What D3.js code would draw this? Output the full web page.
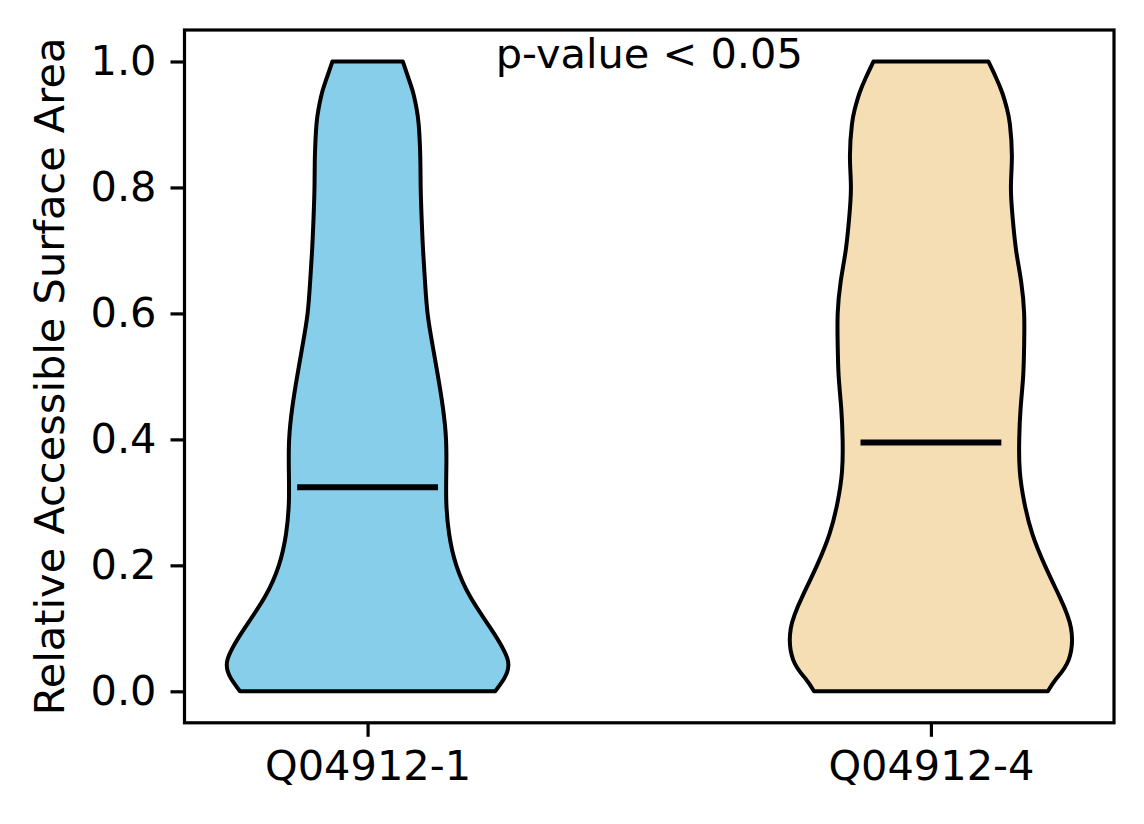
<!DOCTYPE html>
<html>
<head>
<meta charset="utf-8">
<script src="https://cdn.jsdelivr.net/npm/d3@7"></script>
<style>
  body { margin: 0; background: #fff; }
  svg { display: block; }
</style>
</head>
<body>
<svg id="svg"></svg>
<script>
// categories and stats
const groups = ["Q04912-1", "Q04912-4"];
const medians = [0.324, 0.395];
const fills = ["#87CEEB", "#F5DEB3"];

// density grid (RSA value) and relative density (max = 1)
const grid = [0, 0.02, 0.05, 0.10, 0.15, 0.20, 0.25, 0.30, 0.35, 0.40, 0.45,
              0.50, 0.55, 0.60, 0.65, 0.70, 0.75, 0.80, 0.85, 0.90, 0.925, 0.95, 0.975, 1.00];
const dens1 = [0.906, 0.969, 0.995, 0.874, 0.729, 0.630, 0.579, 0.559, 0.559, 0.557, 0.535,
               0.500, 0.461, 0.426, 0.408, 0.394, 0.384, 0.377, 0.374, 0.363, 0.348, 0.324, 0.288, 0.250];
const dens4 = [0.830, 0.890, 0.978, 0.995, 0.914, 0.809, 0.720, 0.663, 0.631, 0.627, 0.637,
               0.655, 0.662, 0.662, 0.641, 0.605, 0.581, 0.568, 0.575, 0.561, 0.540, 0.507, 0.461, 0.408];

const yTicks = [0, 0.2, 0.4, 0.6, 0.8, 1.0];
const title = "p-value < 0.05";
const yLabel = "Relative Accessible Surface Area";

const width = 1144, height = 824;
const violinWidth = 0.5;
const font = "DejaVu Sans, sans-serif";
const fs = 41.5;

const x = d3.scaleLinear().domain([0.675, 2.325]).range([184.5, 1114]);
const y = d3.scaleLinear().domain([-0.05, 1.05]).range([722.8, 30]);

const svg = d3.select("#svg")
    .attr("width", width)
    .attr("height", height)
    .attr("viewBox", [0, 0, width, height]);

const violins = [dens1, dens4].map((d, i) => ({
  pos: i + 1,
  pts: grid.map((v, j) => ({ v: v, w: d[j] })),
  median: medians[i],
  fill: fills[i]
}));

const area = d3.area()
    .curve(d3.curveNatural)
    .y(p => y(p.v));

svg.append("g")
  .selectAll("path")
  .data(violins)
  .join("path")
    .attr("d", d => area
        .x0(p => x(d.pos - p.w * violinWidth / 2))
        .x1(p => x(d.pos + p.w * violinWidth / 2))(d.pts))
    .attr("fill", d => d.fill)
    .attr("stroke", "#000")
    .attr("stroke-width", 4)
    .attr("stroke-linejoin", "round");

// median lines
svg.append("g")
  .selectAll("line")
  .data(violins)
  .join("line")
    .attr("x1", d => x(d.pos - violinWidth / 4))
    .attr("x2", d => x(d.pos + violinWidth / 4))
    .attr("y1", d => y(d.median))
    .attr("y2", d => y(d.median))
    .attr("stroke", "#000")
    .attr("stroke-width", 6);

// axes
const yAxis = d3.axisLeft(y).tickValues(yTicks).tickFormat(d3.format(".1f"))
    .tickSize(14).tickPadding(14);
const xAxis = d3.axisBottom(x).tickValues([1, 2]).tickFormat((d, i) => groups[i])
    .tickSize(14).tickPadding(14);

const gy = svg.append("g").attr("transform", `translate(${x.range()[0]},0)`).call(yAxis);
const gx = svg.append("g").attr("transform", `translate(0,${y.range()[0]})`).call(xAxis);

[gx, gy].forEach(g => {
  g.select(".domain").remove();
  g.selectAll(".tick line").attr("stroke", "#000").attr("stroke-width", 3.2);
  g.selectAll("text").attr("font-family", font).attr("font-size", fs).attr("fill", "#000");
});

// frame
svg.append("rect")
    .attr("x", x.range()[0])
    .attr("y", y.range()[1])
    .attr("width", x.range()[1] - x.range()[0])
    .attr("height", y.range()[0] - y.range()[1])
    .attr("fill", "none")
    .attr("stroke", "#000")
    .attr("stroke-width", 3.2);

svg.append("text")
    .attr("x", x(1.5))
    .attr("y", y(1.0) + 7)
    .attr("text-anchor", "middle")
    .attr("font-family", font)
    .attr("font-size", fs)
    .text(title);

svg.append("text")
    .attr("transform", `translate(64,${(y.range()[0] + y.range()[1]) / 2}) rotate(-90)`)
    .attr("text-anchor", "middle")
    .attr("font-family", font)
    .attr("font-size", fs)
    .text(yLabel);
</script>
</body>
</html>
